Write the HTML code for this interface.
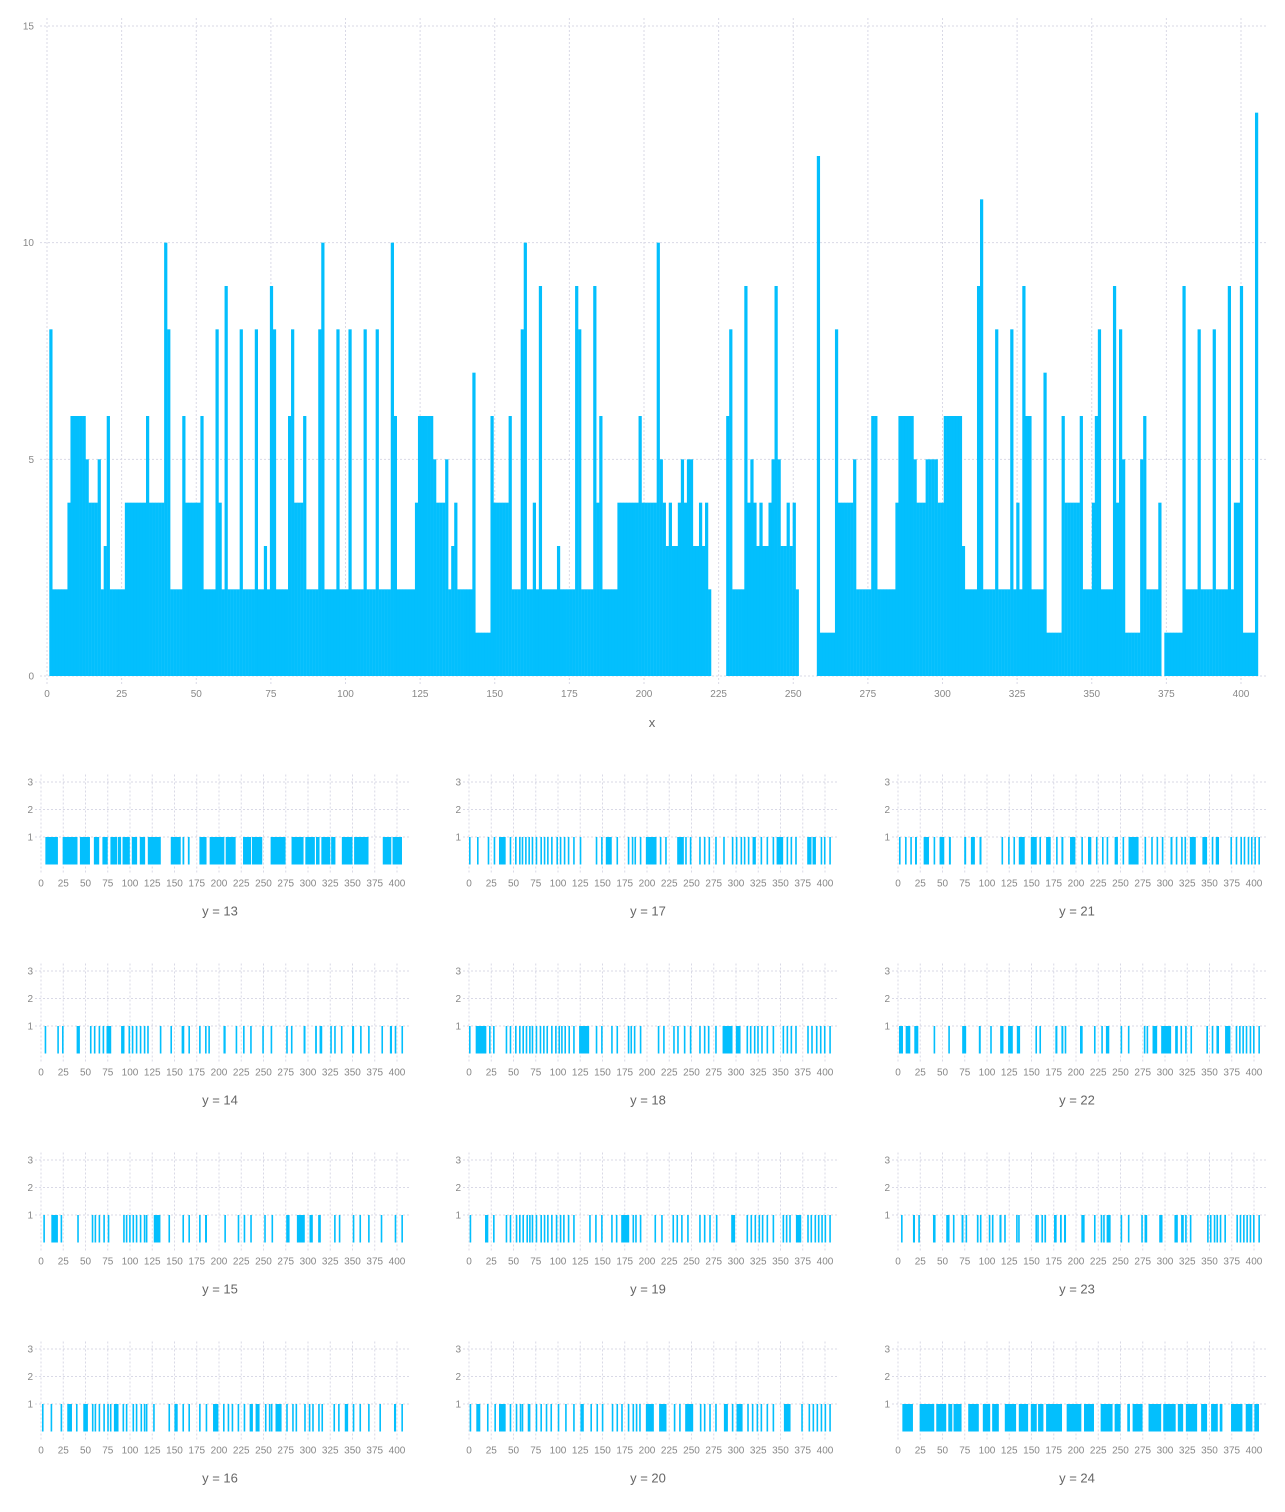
<!DOCTYPE html>
<html><head><meta charset="utf-8">
<style>
html,body{margin:0;padding:0;background:#fff;}
svg{display:block;font-family:"Liberation Sans",sans-serif;}
.grid{stroke:#d9d9e6;stroke-width:1;stroke-dasharray:2,2;}
.tick{fill:#888;font-size:10px;}
.title{fill:#666;font-size:13px;}
.bar{fill:#03bffd;}
</style></head>
<body>
<svg id="chart" width="1285" height="1512" viewBox="0 0 1285 1512">
<g id="main"></g>
<g id="small"></g>
</svg>
<script>
const mainValues = [
8,2,2,2,2,2,4,6,6,6, 6,6,5,4,4,4,5,2,3,6, 2,2,2,2,2,4,4,4,4,4, 4,4,6,4,4,4,4,4,10,8,
2,2,2,2,6,4,4,4,4,4, 6,2,2,2,2,8,4,2,9,2, 2,2,2,8,2,2,2,2,8,2, 2,3,2,9,8,2,2,2,2,6,
8,4,4,4,6,2,2,2,2,8, 10,2,2,2,2,8,2,2,2,8, 2,2,2,2,8,2,2,2,8,2, 2,2,2,10,6,2,2,2,2,2,
2,4,6,6,6,6,6,5,4,4, 4,5,2,3,4,2,2,2,2,2, 7,1,1,1,1,1,6,4,4,4, 4,4,6,2,2,2,8,10,2,2,
4,2,9,2,2,2,2,2,3,2, 2,2,2,2,9,8,2,2,2,2, 9,4,6,2,2,2,2,2,4,4, 4,4,4,4,4,6,4,4,4,4,
4,10,5,4,3,4,3,3,4,5, 4,5,5,3,3,4,3,4,2,0, 0,0,0,0,6,8,2,2,2,2, 9,4,5,4,3,4,3,3,4,5,
9,5,3,3,4,3,4,2,0,0, 0,0,0,0,12,1,1,1,1,1, 8,4,4,4,4,4,5,2,2,2, 2,2,6,6,2,2,2,2,2,2,
4,6,6,6,6,6,5,4,4,4, 5,5,5,5,4,4,6,6,6,6, 6,6,3,2,2,2,2,9,11,2, 2,2,2,8,2,2,2,2,8,2,
4,2,9,6,6,2,2,2,2,7, 1,1,1,1,1,6,4,4,4,4, 4,6,2,2,2,4,6,8,2,2, 2,2,9,4,8,5,1,1,1,1,
1,5,6,2,2,2,2,4,0,1, 1,1,1,1,1,9,2,2,2,2, 8,2,2,2,2,8,2,2,2,2, 9,2,4,4,9,1,1,1,1,13
];
const mainXTicks = [0,25,50,75,100,125,150,175,200,225,250,275,300,325,350,375,400];
const mainYTicks = [0,5,10,15];
const smallXTicks = [0,25,50,75,100,125,150,175,200,225,250,275,300,325,350,375,400];
const smallYTicks = [1,2,3];
const panelLabels = [13,14,15,16,17,18,19,20,21,22,23,24];

const p13 = [[4.9,19],[24.3,41],[43.7,55],[59.4,65.4],[69,75],[78,85.6],[86.4,90],[91.6,99.8],[102,108],[111,117],[120,134.6],[145.8,157],[159,161],[165,167],[178,186],[189.5,206],[207.5,218.7],[227,236],[237,248.6],[258,274.8],[281.5,295],[297,307.7],[309,313],[315,325],[326,330.8],[338,350],[351.8,368],[384,393.6],[395,405.6]];
const p14 = [[4.1],[18.3],[23.6],[40,43.7],[55],[59.4],[64.7],[69.2],[73.6,78.9],[90,93.8],[98.3],[102],[106.5],[111],[115.5],[119.3],[133.5],[145.4],[158,161],[165.6],[177.6],[184.3],[188],[205,207.5],[218.7],[227],[235],[248.6],[258],[275.5],[280.8],[295,297.2],[308,310],[313,316],[325],[329.4],[337],[349.5,351.8],[358.5],[367.5],[382.5],[392,394.4],[397.4,399],[405]];
const p15 = [[2.6],[11.6,19],[22],[40.7],[57],[60.2],[64.7],[70],[75],[92.3],[95.3],[99],[102.8],[106.5],[111],[115.5],[117.8],[126.7,134.2],[143.2],[158.9],[165.6],[177.6],[184.3,186.5],[206],[221],[227.7],[235.1],[250.8],[259],[275.5,279.3],[287.5,296.4],[301.7,305.4],[311.4,314.4],[329.3],[334.6,336],[350.3],[357.8],[367.5],[381.7],[397.4,398.9],[404.9]];
const p16 = [[1.1],[10.8],[22],[29.5,34.8],[39.3],[47.5,52.7],[57.2],[60.2],[64.7],[70],[74.4],[77.4],[81.9,87.1],[91.6],[95.3],[102.8],[106.5],[111.8],[115.5],[117.8],[126],[143.2],[149.9,153.6],[158.9],[165.6],[177.6],[185],[193.3,199.3],[204.5],[209.7],[214.2],[220.9],[227.7],[234.4,238.1],[241.1,245.6],[251.6],[256],[258.3],[263.5,270.3],[275.5],[282.2],[286],[295.7],[300.9],[304.7],[311.4],[315.1],[328.6],[333.8],[341.3,345.1],[350.3],[357.8],[367.5],[380.2],[396.6,399],[404.9]];
const p17 = [[0],[9],[21],[27.7],[33.7,41.2],[45.7],[51.7],[56.2],[59.2],[63],[66.7],[70.4],[74.9],[80.2],[84],[87.7],[92.2],[98.2],[102],[106.5],[111],[117],[124.4],[142.4],[148.4],[153.7,160.4],[165.7],[178.4],[182.9],[185.9],[191.9],[198.7,210.7],[214.4],[220.4],[233.9,241.4],[242.9],[248.1],[258.6],[263.9],[269.1],[276.6],[285.6],[295.3],[299.8],[305.1],[308.8],[313.3],[318.6,322.3],[327.6],[334.3],[341.1],[345.6,353],[356.8],[361.3],[366.5],[380,384.8],[386,389.8],[395.1],[398.8],[404.8]];
const p18 = [[0],[7.5,19.5],[22.5],[27],[41.2],[45.7],[51.7],[56.2],[60],[63.7],[67.5],[70.4],[74.9],[79.4],[83.2],[87],[92.2],[96.7],[100.5],[103.5],[107.2],[111.7],[117],[123.7,135],[142.4],[148.4],[159.7],[165.7],[178.4],[181.4],[185.2],[191.9],[212.1],[218.1],[229.4],[233.9],[241.4],[248.1],[258.6],[263.9],[268.4],[276.6],[284.9,296.1],[299.8,305.1],[311.8],[315.6],[320.1],[323.8],[328.3],[334.3],[341.1],[352.3],[356.8],[361.3],[366.5],[380],[384.5],[389.8],[394.3],[398.8],[404.8]];
const p19 = [[0.7],[18,21.7],[27],[41.2],[45.7],[52.5],[56.2],[60],[64.5],[67.5],[70.4],[74.9],[80.2],[84],[87.7],[92.2],[97.5],[102],[105.7],[111],[117],[135],[141.7],[148.4],[159.7],[165],[171,180],[183.7],[186.7],[191.9],[208.4],[215.9],[228.6],[233.1],[238.3],[245.1],[258.6],[263.9],[269.9],[277.4],[294.6,299],[311.8],[316.3],[320.8],[325.3],[329],[334.3],[341.1],[352.3],[356],[359.8],[367.3,373.3],[380],[383.7],[388.2],[392],[395.8],[399.5],[404.8]];
const p20 = [[0.7],[8.2,12.7],[20.2],[28.5],[33.7,41.2],[45.7],[52.5],[57],[59.2],[66,69],[74.9],[80.2],[86.2],[91.5],[99.7],[108],[117],[125.2,129],[136.4],[143.2],[149.2],[160.4],[165.7],[171],[178.4],[183.7],[187.4],[191.2],[198.7,207.7],[213.6,221.9],[230.1],[236.1],[242.9,251.9],[259.4],[263.9],[269.9],[276.6],[286.4,290.9],[295.3],[300.6,307.4],[312.6],[317.8],[323.1],[327.6],[334.3],[341.1],[353.8,361.3],[373.3],[381.5],[386],[390.5],[395.1],[399.5],[404.8]];
const p21 = [[1.1],[7.9],[13.8],[19.1,21.3],[28.8,34.8],[40],[46.7,52],[57.2,59.4],[74.4,76.6],[81.9,86.4],[91.6,93.8],[116.3],[123.7],[129.7],[135.7,142.4],[149.2,155.9],[158.9],[166.4,171.6],[177.6],[183.6,185.8],[193.3,199.3],[206],[213.5,217.2],[222.4],[229.2,230.6],[234.4],[243.4,247.1],[252.3],[259,270.3],[277],[284.5],[290.5],[296.4],[306.2,308.4],[312.1],[318.1],[321.9],[327.9,334.6],[342,347.3],[352.5],[357,360.7],[373.5],[379.4],[384.7],[388.4],[392.9],[396.6],[400.4],[404.9]];
const p22 = [[1.1,5.6],[8.6,13.8],[18.3,22.8],[40,41.5],[56.5,58],[72.1,76.6],[90.8,93],[103.6],[114.8,118.5],[123.7,129],[133.5,137.2],[154.4,155.9],[158.9],[176.8,179.1],[183.6,185.8],[187.3],[204.5,207.5],[220.2],[228.4],[233.6,237.4],[250.1],[258.3],[276.2],[279.3],[286,291.2],[295.7,306.9],[311.4,314.4],[317.4],[322.6],[328.6],[346.5],[352.5],[357.8,360.7],[367.5,373.5],[379.4],[383.2],[386.9],[390.7],[395.1],[398.9],[404.9]];
const p23 = [[3.4],[16.8,19.1],[22.8,24.3],[39.3,42.2],[54.2,57.9],[61.7,63.2],[71.4,73.6],[75.9,77.4],[88.6,90.5],[92,93.8],[102,103.5],[105.5,107.3],[114,116.3],[119.3,120.8],[132.7,134],[135,136.4],[154.4,155.5],[156.4,157.4],[161.1,163],[164.5,166.4],[175.3,178.3],[182,184],[186.5,188.8],[206,209.7],[220.2],[227.7,229],[230.5,231.4],[234.4,238.9],[250.1],[258.3],[273.3,275],[277,280],[293.5,297.2],[310.6,314.4],[318.1,321.1],[322.6],[327.9],[347.3,348.5],[350.5,351.8],[354.8,355.8],[357.8],[361.5],[366.7],[380.2],[383.9],[387.7],[391.4],[395.1],[398.9],[404.9]];
const p24 = [[4.9,16.8],[24.3,40.7],[43,54.2],[56.5,61],[62.4,71.4],[78.9,90.8],[95.3,103.6],[105.8,113.3],[120,132.7],[135.7,146.2],[149.2,155.9],[157.4,163.4],[166.4,184.3],[189.5,206],[209,220.2],[227.7,241.1],[243.4,250.1],[257.6,260.6],[263.6,274.8],[281.5,295.7],[298,312],[314.4,320.4],[323.4,336.1],[340.6,347.3],[351.8,359.3],[361.5,364.5],[374.2,387],[390.7,398.2],[400.4,405.6]];
const panels = [p13,p14,p15,p16,p17,p18,p19,p20,p21,p22,p23,p24];

const NS = "http://www.w3.org/2000/svg";
function mk(tag, attrs, parent){const e=document.createElementNS(NS,tag);for(const k in attrs)e.setAttribute(k,attrs[k]);parent.appendChild(e);return e;}

// ---- main chart ----
const main = document.getElementById('main');
const mx = v => 47 + v*(1241-47)/400;
const my = v => 676 - v*(676-26)/15;
const barX0 = 49.3, barX1 = 1258;
const bx = i => barX0 + i*(barX1-barX0)/mainValues.length;
mainXTicks.forEach(t=>{
  const l = mk('line',{x1:mx(t),x2:mx(t),y1:18,y2:684,class:'grid'},main);
  
  
  const tx = mk('text',{x:mx(t),y:697,'text-anchor':'middle',class:'tick'},main);
  tx.textContent = t;
  
  
});
mainYTicks.forEach(t=>{
  const l = mk('line',{x1:40,x2:1266,y1:my(t),y2:my(t),class:'grid'},main);
  
  
  const tx = mk('text',{x:34,y:my(t)+3.5,'text-anchor':'end',class:'tick'},main);
  tx.textContent = t;
  
  
});
mainValues.forEach((v,i)=>{
  if(v<=0) return;
  const w = (barX1-barX0)/mainValues.length;
  const r = mk('rect',{x:bx(i),y:my(v),width:w+0.2,height:my(0)-my(v),class:'bar'},main);
  
  
});
const xt = mk('text',{x:652,y:727,'text-anchor':'middle',class:'title'},main);
xt.textContent='x';



// ---- small multiples ----
const small = document.getElementById('small');
const colX0 = [41,469,898];
const rowBase = [864.5,1053.5,1242.5,1431.5];
panels.forEach((data,pi)=>{
  const col = Math.floor(pi/4), row = pi%4;
  const x0 = colX0[col], base = rowBase[row];
  const sx = v => x0 + v*356/400;
  const sy = v => base - v*27.5;
  const g = mk('g',{},small);
  
  
  smallXTicks.forEach(t=>{
    const l = mk('line',{x1:sx(t),x2:sx(t),y1:base-90,y2:base+8,class:'grid'},g);
    
    
    const tx = mk('text',{x:sx(t),y:base+22,'text-anchor':'middle',class:'tick'},g);
    tx.textContent=t;
    
    
  });
  smallYTicks.forEach(t=>{
    const l = mk('line',{x1:x0-6,x2:x0+369,y1:sy(t),y2:sy(t),class:'grid'},g);
    
    
    const tx = mk('text',{x:x0-8,y:sy(t)+3.5,'text-anchor':'end',class:'tick'},g);
    tx.textContent=t;
    
    
  });
  data.forEach(d=>{
    const a = d[0], b = d.length>1 ? d[1] : d[0]+1;
    const w = Math.max(sx(b)-sx(a),1.6);
    const r = mk('rect',{x:sx(a),y:sy(1),width:w,height:27.5,class:'bar'},g);
    
    
  });
  const tt = mk('text',{x:x0+179,y:base+51,'text-anchor':'middle',class:'title'},g);
  tt.textContent='y = '+panelLabels[pi];
  
  
});
</script>
</body></html>
